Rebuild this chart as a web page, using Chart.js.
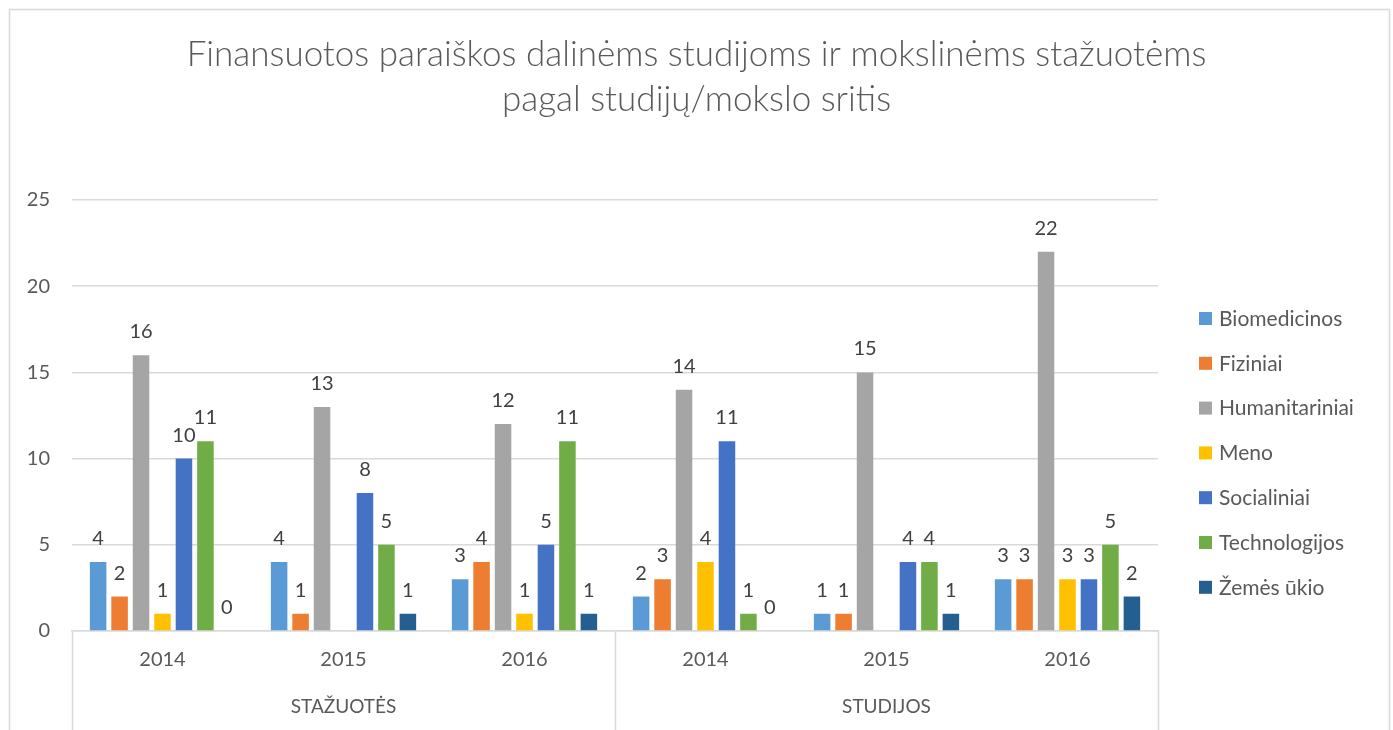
<!DOCTYPE html>
<html>
<head>
<meta charset="utf-8">
<script src="https://cdn.jsdelivr.net/npm/chart.js@4.4.0/dist/chart.umd.min.js"></script>
<style>
  html, body { margin: 0; padding: 0; background: #fff; }
</style>
</head>
<body>
<canvas id="chart" width="1393" height="730"></canvas>
<script>
// Finansuotos paraiškos pagal studijų/mokslo sritis
var years = ['2014', '2015', '2016', '2014', '2015', '2016'];
var groups = ['STAŽUOTĖS', 'STUDIJOS'];

var biomedicinos   = [4, 4, 3, 2, 1, 3];
var fiziniai       = [2, 1, 4, 3, 1, 3];
var humanitariniai = [16, 13, 12, 14, 15, 22];
var meno           = [1, null, 1, 4, null, 3];
var socialiniai    = [10, 8, 5, 11, 4, 3];
var technologijos  = [11, 5, 11, 1, 4, 5];
var zemesUkio      = [0, 1, 1, 0, 1, 2];

var yTicks = [0, 5, 10, 15, 20, 25];

var FONT = 'Lato, "Open Sans", sans-serif';
var gridColor = '#d9d9d9';
var textColor = '#595959';

function ds(label, data, color) {
    return { label: label, data: data, backgroundColor: color, borderWidth: 0 };
}

// white card with a thin grey frame
var framePlugin = {
    id: 'frame',
    beforeDraw: function (chart) {
        var c = chart.ctx;
        c.save();
        c.fillStyle = '#fff';
        c.fillRect(0, 0, chart.width, chart.height);
        c.strokeStyle = gridColor;
        c.lineWidth = 1.5;
        c.strokeRect(9.5, 9.5, 1380, chart.height + 20);
        c.restore();
    }
};

// numbers above the bars
var valuePlugin = {
    id: 'values',
    afterDatasetsDraw: function (chart) {
        var c = chart.ctx;
        c.save();
        c.font = '20px ' + FONT;
        c.fillStyle = '#404040';
        c.textAlign = 'center';
        c.textBaseline = 'alphabetic';
        chart.data.datasets.forEach(function (d, i) {
            var meta = chart.getDatasetMeta(i);
            meta.data.forEach(function (bar, j) {
                var v = d.data[j];
                if (v === null || v === undefined) return;
                c.fillText(String(v), bar.x, bar.y - 17);
            });
        });
        c.restore();
    }
};

// vertical separators of the two-level category axis + legend
var axisPlugin = {
    id: 'axisGroups',
    afterDraw: function (chart) {
        var c = chart.ctx;
        var xs = chart.scales.x;
        var area = chart.chartArea;
        var mid = (xs.getPixelForValue(2) + xs.getPixelForValue(3)) / 2;
        c.save();
        c.strokeStyle = gridColor;
        c.lineWidth = 1.5;
        [xs.left, mid, xs.right].forEach(function (x) {
            c.beginPath();
            c.moveTo(Math.round(x) + 0.5, area.bottom);
            c.lineTo(Math.round(x) + 0.5, chart.height);
            c.stroke();
        });

        // legend on the right
        c.font = '21px ' + FONT;
        c.textBaseline = 'middle';
        c.textAlign = 'left';
        var lx = area.right + 41;
        var ly = area.top + 119;
        chart.data.datasets.forEach(function (d, i) {
            var y = ly + i * 44.8;
            c.fillStyle = d.backgroundColor;
            c.fillRect(lx, y - 7, 13, 13);
            c.fillStyle = textColor;
            c.fillText(d.label, lx + 20, y);
        });
        c.restore();
    }
};

var ctx = document.getElementById('chart').getContext('2d');
var chart = new Chart(ctx, {
    type: 'bar',
    data: {
        labels: years,
        datasets: [
            ds('Biomedicinos', biomedicinos, '#5B9BD5'),
            ds('Fiziniai', fiziniai, '#ED7D31'),
            ds('Humanitariniai', humanitariniai, '#A5A5A5'),
            ds('Meno', meno, '#FFC000'),
            ds('Socialiniai', socialiniai, '#4472C4'),
            ds('Technologijos', technologijos, '#70AD47'),
            ds('Žemės ūkio', zemesUkio, '#255E91')
        ]
    },
    options: {
        responsive: false,
        animation: false,
        categoryPercentage: 0.83,
        barPercentage: 0.77,
        layout: { padding: 0 },
        plugins: {
            legend: { display: false },
            tooltip: { enabled: false },
            title: {
                display: true,
                text: ['Finansuotos paraiškos dalinėms studijoms ir mokslinėms stažuotėms',
                       'pagal studijų/mokslo sritis'],
                color: textColor,
                font: { family: FONT, size: 35, weight: '300', lineHeight: '45px' },
                padding: { top: 32, bottom: 78 }
            }
        },
        scales: {
            x: {
                weight: 0,
                grid: { display: false, drawTicks: false },
                border: { display: true, color: gridColor, width: 1.5 },
                ticks: { color: textColor, font: { family: FONT, size: 20 }, padding: 17 },
                afterFit: function (s) { s.height = 52; }
            },
            x2: {
                type: 'category',
                labels: groups,
                position: 'bottom',
                offset: true,
                weight: 1,
                grid: { display: false, drawTicks: false },
                border: { display: false },
                ticks: { color: textColor, font: { family: FONT, size: 19 }, padding: 12 },
                afterFit: function (s) { s.height = 47; }
            },
            y: {
                min: 0,
                max: 25,
                afterBuildTicks: function (scale) {
                    scale.ticks = yTicks.map(function (v) { return { value: v }; });
                },
                grid: { color: gridColor, lineWidth: 1.5, drawTicks: false },
                border: { display: false },
                ticks: { color: textColor, font: { family: FONT, size: 20 }, padding: 22 },
                afterFit: function (s) { s.width = 72; }
            },
            // empty right-hand strip that holds the legend
            yLegend: {
                type: 'linear',
                position: 'right',
                grid: { display: false, drawTicks: false },
                border: { display: false },
                ticks: { display: false },
                afterFit: function (s) { s.width = 235; }
            }
        }
    },
    plugins: [framePlugin, valuePlugin, axisPlugin]
});
</script>
</body>
</html>
